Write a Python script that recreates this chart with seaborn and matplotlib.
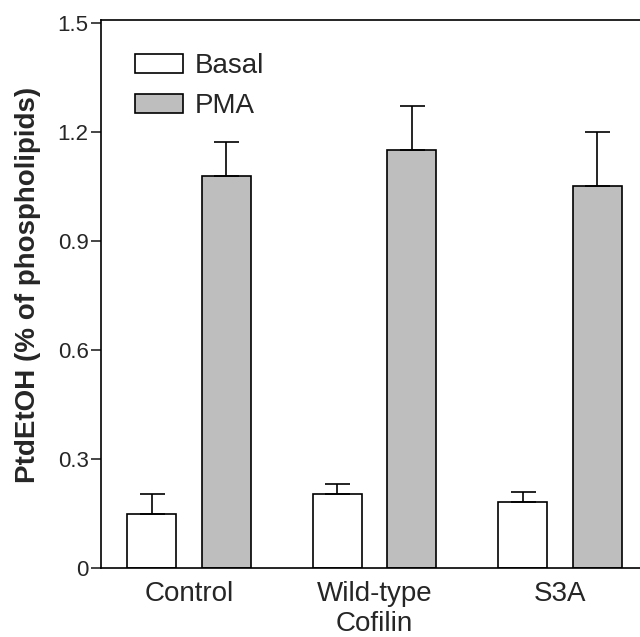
import numpy as np
import pandas as pd
import seaborn as sns
import matplotlib
matplotlib.use("Agg")
import matplotlib.pyplot as plt
from matplotlib.transforms import blended_transform_factory

groups = ["Control", "Wild-type", "S3A"]
basal = [0.148, 0.204, 0.182]
basal_err = [0.055, 0.027, 0.027]
pma = [1.079, 1.151, 1.051]
pma_err = [0.093, 0.120, 0.148]
yticks = [0, 0.3, 0.6, 0.9, 1.2, 1.5]
ytick_labels = ["0", "0.3", "0.6", "0.9", "1.2", "1.5"]

sns.set_style("ticks")
plt.rcParams['font.family'] = ['Liberation Sans', 'DejaVu Sans']

df = pd.DataFrame({
    "group": groups * 2,
    "value": basal + pma,
    "treat": ["Basal"] * 3 + ["PMA"] * 3,
})

fig = plt.figure(figsize=(6.4, 6.37), dpi=100)
ax = fig.add_axes([0.158, 0.1083, 0.842, 0.8603])

sns.barplot(data=df, x="group", y="value", hue="treat", order=groups,
            hue_order=["Basal", "PMA"], palette=["white", "#bebebe"],
            edgecolor="black", linewidth=1.2, gap=0.34, errorbar=None,
            saturation=1, ax=ax)

# upper-only error bars on top of each bar
errs = [basal_err, pma_err]
for cont, err in zip(ax.containers, errs):
    xs = [b.get_x() + b.get_width() / 2 for b in cont]
    ys = [b.get_height() for b in cont]
    ax.errorbar(xs, ys, yerr=[np.zeros(len(err)), err], fmt="none",
                ecolor="black", elinewidth=1.2, capsize=9, capthick=1.2)

ax.set_xlim(-0.474, 2.431)
ax.set_ylim(0, 1.508)
ax.set_yticks(yticks)
ax.set_yticklabels(ytick_labels, fontsize=16)
ax.tick_params(axis="y", length=7, width=1.2, pad=2)
ax.tick_params(axis="x", length=0, pad=9, labelsize=20)
ax.set_xlabel("")
ax.set_ylabel("PtdEtOH (% of phospholipids)", fontsize=20, fontweight="bold")
ax.yaxis.set_label_coords(-0.112, 0.517)

for s in ["left", "bottom", "top"]:
    ax.spines[s].set_linewidth(1.2)
    ax.spines[s].set_color("black")
ax.spines["right"].set_visible(False)

trans = blended_transform_factory(ax.transData, fig.transFigure)
ax.text(1.0, 0.009, "Cofilin", transform=trans, ha="center", va="baseline", fontsize=20)

leg = ax.legend(loc="upper left", bbox_to_anchor=(0.062, 0.939), frameon=False,
                fontsize=20, handlelength=1.76, handleheight=0.65,
                handletextpad=0.4, labelspacing=0.5, borderpad=0, borderaxespad=0)

fig.savefig("out.png", dpi=100)
